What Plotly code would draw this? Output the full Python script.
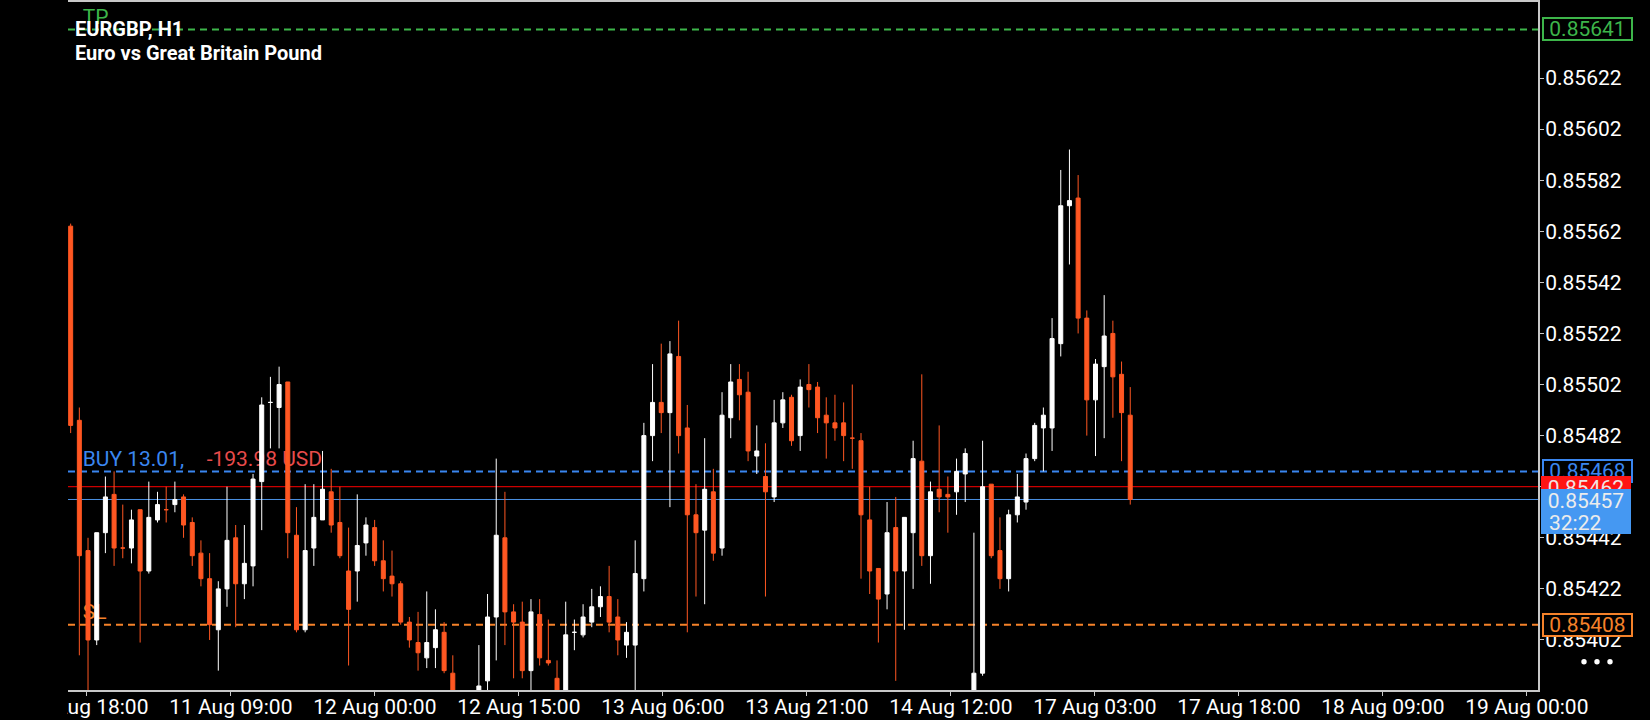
import plotly.graph_objects as go

# ---------------- data ----------------
symbol_title = "EURGBP, H1"
symbol_desc = "Euro vs Great Britain Pound"

opens = [0.85564, 0.85488, 0.85437, 0.85402, 0.85444, 0.85459, 0.85438, 0.85438, 0.85453, 0.85429,
         0.85449, 0.85453, 0.85455, 0.85458, 0.85448, 0.85436, 0.85426, 0.85406, 0.85422, 0.85442,
         0.85424, 0.85431, 0.85464, 0.85495, 0.85493, 0.85503, 0.85443, 0.85406, 0.85438, 0.85449,
         0.85460, 0.85448, 0.85429, 0.85429, 0.85440, 0.85446, 0.85433, 0.85427, 0.85424, 0.85409,
         0.85401, 0.85395, 0.85399, 0.85405, 0.85389, 0.85377, 0.85371, 0.85377, 0.85386, 0.85411,
         0.85442, 0.85413, 0.85409, 0.85390, 0.85412, 0.85394, 0.85387, 0.85378, 0.85405, 0.85404,
         0.85409, 0.85415, 0.85419, 0.85411, 0.85400, 0.85400, 0.85426, 0.85482, 0.85495, 0.85491,
         0.85513, 0.85485, 0.85451, 0.85445, 0.85460, 0.85438, 0.85489, 0.85504, 0.85499, 0.85474,
         0.85466, 0.85458, 0.85487, 0.85497, 0.85482, 0.85502, 0.85501, 0.85490, 0.85487, 0.85487,
         0.85481, 0.85480, 0.85449, 0.85430, 0.85420, 0.85446, 0.85429, 0.85444, 0.85472, 0.85435,
         0.85461, 0.85459, 0.85460, 0.85467, 0.85378, 0.85389, 0.85463, 0.85437, 0.85426, 0.85451,
         0.85456, 0.85473, 0.85485, 0.85485, 0.85518, 0.85572, 0.85575, 0.85528, 0.85496, 0.85509,
         0.85522, 0.85506, 0.85490]
highs = [0.85565, 0.85493, 0.85442, 0.85444, 0.85466, 0.85468, 0.85455, 0.85453, 0.85453, 0.85464,
         0.85460, 0.85462, 0.85464, 0.85459, 0.85450, 0.85441, 0.85436, 0.85425, 0.85462, 0.85447,
         0.85447, 0.85467, 0.85497, 0.85505, 0.85509, 0.85503, 0.85454, 0.85463, 0.85463, 0.85476,
         0.85469, 0.85462, 0.85446, 0.85459, 0.85450, 0.85449, 0.85441, 0.85437, 0.85425, 0.85411,
         0.85413, 0.85421, 0.85414, 0.85409, 0.85396, 0.85380, 0.85379, 0.85400, 0.85420, 0.85473,
         0.85460, 0.85416, 0.85417, 0.85418, 0.85418, 0.85410, 0.85394, 0.85417, 0.85410, 0.85416,
         0.85422, 0.85423, 0.85431, 0.85418, 0.85409, 0.85441, 0.85487, 0.85510, 0.85518, 0.85519,
         0.85527, 0.85494, 0.85463, 0.85481, 0.85469, 0.85499, 0.85510, 0.85510, 0.85507, 0.85486,
         0.85479, 0.85496, 0.85499, 0.85498, 0.85504, 0.85510, 0.85503, 0.85497, 0.85498, 0.85495,
         0.85502, 0.85483, 0.85462, 0.85430, 0.85456, 0.85458, 0.85450, 0.85480, 0.85506, 0.85464,
         0.85486, 0.85466, 0.85473, 0.85477, 0.85444, 0.85480, 0.85463, 0.85450, 0.85453, 0.85467,
         0.85475, 0.85487, 0.85493, 0.85528, 0.85586, 0.85594, 0.85584, 0.85531, 0.85512, 0.85537,
         0.85527, 0.85511, 0.85501]
lows = [0.85483, 0.85396, 0.85379, 0.85400, 0.85436, 0.85431, 0.85434, 0.85432, 0.85401, 0.85428,
        0.85448, 0.85448, 0.85452, 0.85442, 0.85431, 0.85423, 0.85402, 0.85390, 0.85415, 0.85407,
        0.85418, 0.85423, 0.85445, 0.85477, 0.85477, 0.85434, 0.85405, 0.85405, 0.85431, 0.85449,
        0.85444, 0.85434, 0.85392, 0.85417, 0.85435, 0.85431, 0.85421, 0.85419, 0.85408, 0.85399,
        0.85390, 0.85391, 0.85391, 0.85389, 0.85372, 0.85367, 0.85365, 0.85372, 0.85381, 0.85394,
        0.85400, 0.85387, 0.85387, 0.85381, 0.85392, 0.85392, 0.85375, 0.85374, 0.85398, 0.85403,
        0.85407, 0.85411, 0.85405, 0.85396, 0.85395, 0.85381, 0.85421, 0.85472, 0.85483, 0.85454,
        0.85475, 0.85405, 0.85419, 0.85416, 0.85433, 0.85435, 0.85481, 0.85488, 0.85472, 0.85467,
        0.85419, 0.85456, 0.85485, 0.85478, 0.85476, 0.85493, 0.85483, 0.85473, 0.85480, 0.85472,
        0.85469, 0.85426, 0.85420, 0.85401, 0.85414, 0.85386, 0.85406, 0.85422, 0.85431, 0.85424,
        0.85452, 0.85444, 0.85451, 0.85456, 0.85374, 0.85388, 0.85434, 0.85422, 0.85421, 0.85448,
        0.85453, 0.85472, 0.85468, 0.85476, 0.85513, 0.85549, 0.85522, 0.85482, 0.85474, 0.85481,
        0.85489, 0.85472, 0.85455]
closes = [0.85486, 0.85435, 0.85402, 0.85444, 0.85458, 0.85438, 0.85438, 0.85449, 0.85429, 0.85450,
          0.85455, 0.85453, 0.85457, 0.85447, 0.85435, 0.85426, 0.85408, 0.85422, 0.85441, 0.85424,
          0.85432, 0.85465, 0.85494, 0.85495, 0.85502, 0.85444, 0.85406, 0.85437, 0.85450, 0.85461,
          0.85447, 0.85435, 0.85414, 0.85439, 0.85447, 0.85433, 0.85426, 0.85424, 0.85409, 0.85402,
          0.85397, 0.85401, 0.85406, 0.85390, 0.85377, 0.85371, 0.85376, 0.85384, 0.85411, 0.85443,
          0.85413, 0.85409, 0.85390, 0.85413, 0.85395, 0.85393, 0.85379, 0.85404, 0.85405, 0.85411,
          0.85415, 0.85419, 0.85409, 0.85402, 0.85405, 0.85428, 0.85482, 0.85495, 0.85491, 0.85514,
          0.85482, 0.85451, 0.85444, 0.85461, 0.85436, 0.85490, 0.85503, 0.85498, 0.85476, 0.85476,
          0.85460, 0.85487, 0.85496, 0.85480, 0.85501, 0.85500, 0.85489, 0.85487, 0.85485, 0.85482,
          0.85481, 0.85451, 0.85429, 0.85418, 0.85444, 0.85429, 0.85450, 0.85473, 0.85435, 0.85460,
          0.85458, 0.85458, 0.85468, 0.85475, 0.85389, 0.85462, 0.85435, 0.85426, 0.85451, 0.85458,
          0.85473, 0.85486, 0.85490, 0.85520, 0.85572, 0.85574, 0.85528, 0.85496, 0.85510, 0.85521,
          0.85505, 0.85491, 0.85457]
bar_index = list(range(len(opens)))

time_tick_labels = ["10 Aug 18:00", "11 Aug 09:00", "12 Aug 00:00", "12 Aug 15:00",
                    "13 Aug 06:00", "13 Aug 21:00", "14 Aug 12:00", "17 Aug 03:00",
                    "17 Aug 18:00", "18 Aug 09:00", "19 Aug 00:00"]
price_ticks = [0.85402, 0.85422, 0.85442, 0.85462, 0.85482, 0.85502,
               0.85522, 0.85542, 0.85562, 0.85582, 0.85602, 0.85622]

tp_price = 0.85641
sl_price = 0.85408
entry_price = 0.85468
ask_price = 0.85462
bid_price = 0.85457
position_label = "BUY 13.01,"
profit_label = "-193.98 USD"
timer_label = "32:22"

# ---------------- style ----------------
FONT = "Roboto"
BULL = "#FFFFFF"
BEAR = "#FF5722"
GREEN = "#3DB54A"
BLUE = "#3A86F0"
BLUE_THIN = "#4A90E2"
RED = "#FF0000"
ORANGE = "#F5822A"
PROFIT_RED = "#E84B4B"
FRAME = "#C8C8C8"
FS = 21

X_RANGE = [-0.306, 168.95]
Y_RANGE = [0.8538242, 0.8565175]
tick_pos = [1.86 + 16.58 * k for k in range(len(time_tick_labels))]

fig = go.Figure()

# text labels under the candles (main axes)
def label(x, y, txt, color):
    fig.add_trace(go.Scatter(x=[x], y=[y], mode="text", text=[txt], textposition="top right",
                             textfont=dict(family=FONT, size=FS, color=color),
                             showlegend=False, hoverinfo="skip", cliponaxis=False,
                             xaxis="x", yaxis="y"))

label(1.386, tp_price, "TP", GREEN)
label(1.386, sl_price, "SL", ORANGE)
label(1.386, entry_price, position_label, BLUE)
label(15.66, entry_price, profit_label, PROFIT_RED)

# candles on overlay axes (drawn above the labels)
fig.add_trace(go.Candlestick(
    x=bar_index, open=opens, high=highs, low=lows, close=closes,
    xaxis="x2", yaxis="y2",
    increasing=dict(line=dict(color=BULL, width=1), fillcolor=BULL),
    decreasing=dict(line=dict(color=BEAR, width=1), fillcolor=BEAR),
    whiskerwidth=0, showlegend=False, hoverinfo="skip"))

def hline(price, color, width, dash="solid"):
    return dict(type="line", xref="paper", x0=0, x1=1, yref="y", y0=price, y1=price,
                layer="below", line=dict(color=color, width=width, dash=dash))

shapes = [
    hline(tp_price, GREEN, 2, "7px,5px"),
    hline(entry_price, BLUE, 2, "7px,5px"),
    hline(ask_price, RED, 1),
    hline(bid_price, BLUE_THIN, 1),
    hline(sl_price, ORANGE, 2, "7px,5px"),
    # hide the part of the first time label left of the chart
    dict(type="rect", xref="paper", yref="paper", x0=-0.1, x1=-0.0005, y0=-0.1, y1=-0.004,
         layer="above", fillcolor="#000000", line=dict(width=0)),
]
for off in (46, 59, 72):
    shapes.append(dict(type="circle", xref="paper", yref="paper", xsizemode="pixel", ysizemode="pixel",
                       xanchor=1, yanchor=0.04113, x0=off - 2.7, x1=off + 2.7, y0=-2.7, y1=2.7,
                       fillcolor="#FFFFFF", line=dict(width=0), layer="above"))

def box(price, txt, color, bg, border, xshift, yanchor="middle", yshift=0, width=85, height=18,
        bw=2, pad=1, valign="middle"):
    return dict(xref="paper", x=1, xanchor="left", xshift=xshift, yref="y", y=price,
                yanchor=yanchor, yshift=yshift, text=txt, showarrow=False,
                font=dict(family=FONT, size=FS, color=color), bgcolor=bg,
                bordercolor=border, borderwidth=bw, borderpad=pad, width=width, height=height,
                align="center", valign=valign)

annotations = [
    dict(xref="paper", x=0, xanchor="left", xshift=4.7, yref="paper", y=1, yanchor="middle",
         yshift=-27.0, text=symbol_title, showarrow=False,
         font=dict(family=FONT, size=20, color="#FFFFFF", weight="bold")),
    dict(xref="paper", x=0, xanchor="left", xshift=4.7, yref="paper", y=1, yanchor="middle",
         yshift=-50.5, text=symbol_desc, showarrow=False,
         font=dict(family=FONT, size=20, color="#FFFFFF", weight="bold")),
    box(tp_price, f"{tp_price:.5f}", GREEN, "#000000", GREEN, 4.3),
    box(sl_price, f"{sl_price:.5f}", ORANGE, "#000000", ORANGE, 4.3),
    box(entry_price, f"{entry_price:.5f}", BLUE, "#000000", BLUE, 4.3),
    box(ask_price, f"{ask_price:.5f}", "#F2E4E4", "#FF1414", "rgba(0,0,0,0)", 2.7,
        yanchor="top", yshift=10.7, width=90, height=24, bw=0, pad=0),
    box(bid_price, f"{bid_price:.5f}", "#ECECEC", "#4598F2", "rgba(0,0,0,0)", 2.7,
        yanchor="top", yshift=10.2, width=90, height=45, bw=0, pad=0, valign="top"),
    dict(xref="paper", x=1, xanchor="left", xshift=8.7, yref="y", y=bid_price, yanchor="middle",
         yshift=-23.8, text=timer_label, showarrow=False,
         font=dict(family=FONT, size=FS, color="#ECECEC")),
]

axis_common = dict(showgrid=False, zeroline=False, automargin=False)
fig.update_layout(
    width=1650, height=720,
    margin=dict(l=68, r=112, t=2, b=30, pad=0),
    paper_bgcolor="#000000", plot_bgcolor="rgba(0,0,0,0)",
    showlegend=False, boxgap=0.54, boxgroupgap=0,
    xaxis=dict(range=X_RANGE, tickmode="array", tickvals=tick_pos, ticktext=time_tick_labels,
               ticks="outside", ticklen=4, tickwidth=1, tickcolor=FRAME, ticklabelstandoff=-7,
               showline=True, linecolor=FRAME, linewidth=2, mirror=True,
               tickfont=dict(family=FONT, size=FS, color="#FFFFFF"),
               rangeslider=dict(visible=False), fixedrange=True, **axis_common),
    yaxis=dict(range=Y_RANGE, side="right", tickmode="array", tickvals=price_ticks,
               ticktext=[f"{p:.5f}" for p in price_ticks],
               ticks="outside", ticklen=4, tickwidth=1, tickcolor=FRAME, ticklabelstandoff=-3,
               showline=True, linecolor=FRAME, linewidth=2, mirror=False,
               tickfont=dict(family=FONT, size=FS, color="#FFFFFF"), fixedrange=True, **axis_common),
    xaxis2=dict(range=X_RANGE, overlaying="x", anchor="y2", visible=False,
                rangeslider=dict(visible=False), **axis_common),
    yaxis2=dict(range=Y_RANGE, overlaying="y", anchor="x2", side="right", visible=False, **axis_common),
    shapes=shapes,
    annotations=annotations,
)

fig.write_html("out.html", config={"displayModeBar": False},
               post_script="document.body.style.margin='0px';document.body.style.background='#000';")
